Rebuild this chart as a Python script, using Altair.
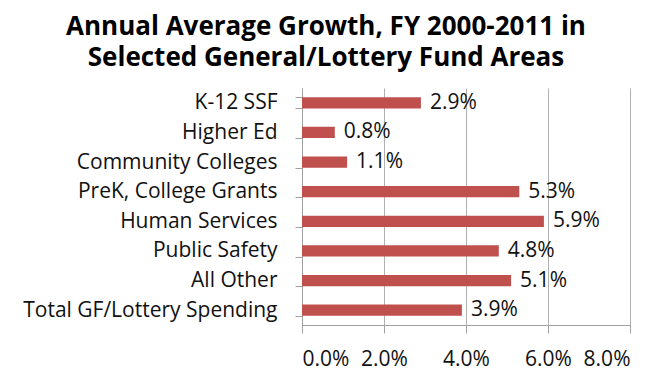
import altair as alt
import pandas as pd

categories = ["K-12 SSF", "Higher Ed", "Community Colleges", "PreK, College Grants",
              "Human Services", "Public Safety", "All Other", "Total GF/Lottery Spending"]
growth = [0.029, 0.008, 0.011, 0.053, 0.059, 0.048, 0.051, 0.039]

df = pd.DataFrame({"area": categories, "growth": growth})

FONT = "Open Sans"

base = alt.Chart(df).encode(
    y=alt.Y("area:N", sort=categories, title=None,
            scale=alt.Scale(paddingInner=0.62, paddingOuter=0.31),
            axis=alt.Axis(labelFont=FONT, labelFontSize=21, labelColor="#111",
                          labelPadding=18, tickBand="extent", tickSize=7,
                          tickColor="#A0A0A0", domainColor="#A0A0A0", grid=False,
                          labelLimit=400)),
    x=alt.X("growth:Q", title=None,
            scale=alt.Scale(domain=[0, 0.08], nice=False),
            axis=alt.Axis(format=".1%", values=[0, 0.02, 0.04, 0.06, 0.08],
                          labelFont=FONT, labelFontSize=21, labelColor="#111",
                          labelPadding=15, tickSize=8, tickColor="#A0A0A0",
                          domainColor="#A0A0A0", gridColor="#B0B0B0", grid=True)),
)

bars = base.mark_bar(color="#C0504D")
labels = base.mark_text(align="left", dx=9, font=FONT, fontSize=21, color="#111").encode(
    text=alt.Text("growth:Q", format=".1%"))

chart = (bars + labels).properties(
    width=328, height=237,
    title=alt.TitleParams(
        text="Annual Average Growth, FY 2000-2011 in",
        subtitle="Selected General/Lottery Fund Areas",
        font=FONT, fontSize=26, fontWeight="bold", color="#000",
        subtitleFont=FONT, subtitleFontSize=26, subtitleFontWeight="bold",
        subtitleColor="#000", subtitlePadding=5,
        anchor="middle", dx=-140, offset=6),
    autosize=alt.AutoSizeParams(type="none"),
    padding={"left": 294, "top": 80, "right": 20, "bottom": 56},
).configure_view(stroke=None)

chart.save("out.html", embed_options={"renderer": "svg", "actions": False})
